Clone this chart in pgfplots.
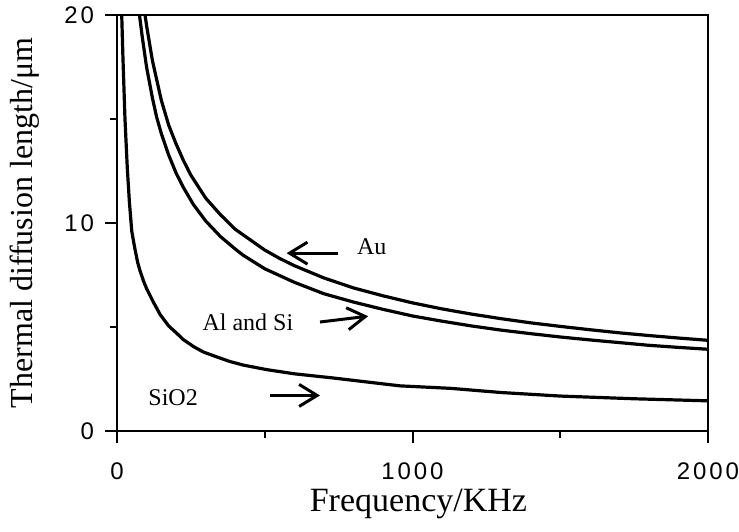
\documentclass[border=0pt]{standalone}
\usepackage{fontspec}
\setmainfont{Liberation Serif}
\newfontfamily\tickfont[LetterSpace=12]{Liberation Sans}
\usepackage{pgfplots}
\pgfplotsset{compat=1.18}
\usetikzlibrary{arrows.meta}

\begin{document}
\begin{tikzpicture}
\useasboundingbox (-58.5pt,-50pt) rectangle (311pt,215.5pt);
\begin{axis}[
    at={(0,0)}, anchor=south west,
    scale only axis, width=295.5pt, height=208pt,
    xmin=0, xmax=2000, ymin=0, ymax=20,
    clip=false,
    xtick={0,1000,2000}, ytick={0,10,20},
    minor xtick={500,1500}, minor ytick={5,15},
    tick align=outside, xtick pos=bottom, ytick pos=left,
    major tick length=6pt, minor tick length=3.5pt,
    axis line style={line width=1pt},
    tick style={black, line width=1pt},
    ticklabel style={font=\tickfont\fontsize{12}{14}\selectfont},
    /pgf/number format/assume math mode=true,
    /pgf/number format/1000 sep={},
    xticklabel style={yshift=-6.5pt},
    yticklabel style={xshift=-2pt},
    xlabel={Frequency/KHz},
    ylabel={Thermal diffusion length/μm},
    xlabel style={font=\fontsize{17}{20}\selectfont, at={(axis description cs:0.51,-0.176)}, anchor=center},
    ylabel style={font=\fontsize{16}{19}\selectfont, at={(axis description cs:-0.157,0.5)}, anchor=center},
]
\draw[line width=1pt] (rel axis cs:0,0) rectangle (rel axis cs:1,1);
% Au
\addplot[black, line width=1.6pt] coordinates {
    (95,20) (100,19.5) (120,17.8) (150,15.9) (175,14.7) (200,13.8)
    (225,13.0) (250,12.3) (300,11.2) (350,10.4) (400,9.7) (450,9.2)
    (500,8.7) (550,8.3) (600,7.95) (700,7.36) (800,6.88) (900,6.5)
    (1000,6.16) (1100,5.87) (1200,5.62) (1300,5.4) (1400,5.2) (1500,5.03)
    (1600,4.87) (1700,4.72) (1800,4.59) (1900,4.47) (2000,4.36)
};
% Al and Si
\addplot[black, line width=1.6pt] coordinates {
    (76,20) (85,19.0) (100,17.5) (120,16.0) (134,15.1) (150,14.3)
    (174,13.3) (200,12.4) (225,11.7) (258,10.9) (300,10.1) (350,9.35)
    (400,8.75) (427,8.45) (500,7.8) (600,7.15) (700,6.6) (800,6.2)
    (900,5.85) (1000,5.53) (1100,5.28) (1200,5.05) (1300,4.85) (1400,4.68)
    (1500,4.52) (1600,4.38) (1700,4.25) (1800,4.12) (1900,4.02) (2000,3.93)
};
% SiO2
\addplot[black, line width=1.6pt] coordinates {
    (16,20) (20,18) (27,15) (35,12.6) (42,11) (50,9.6) (60,8.8) (70,8.1)
    (78,7.7) (90,7.2) (100,6.85) (123,6.2) (146,5.6) (175,5.05) (202,4.7)
    (224,4.4) (260,4.05) (292,3.8) (338,3.56) (380,3.35) (427,3.17)
    (507,2.95) (600,2.75) (731,2.55) (850,2.35) (958,2.17) (1130,2.05)
    (1300,1.85) (1500,1.68) (1750,1.55) (2000,1.45)
};
% labels and arrows
\tikzset{lbl/.style={font=\fontsize{12}{14}\selectfont, inner sep=0pt},
         arr/.style={line width=1.5pt, -{Straight Barb[length=9pt, width=11pt]}}}
\node[lbl] at (axis cs:862,8.86) {Au};
\draw[arr] (axis cs:748,8.55) -- (axis cs:574,8.55);
\node[lbl] at (axis cs:443,5.23) {Al and Si};
\draw[arr] (axis cs:687,5.24) -- (axis cs:850,5.52);
\node[lbl] at (axis cs:190,1.61) {SiO2};
\draw[arr] (axis cs:518,1.71) -- (axis cs:687,1.71);
\end{axis}
\end{tikzpicture}
\end{document}
